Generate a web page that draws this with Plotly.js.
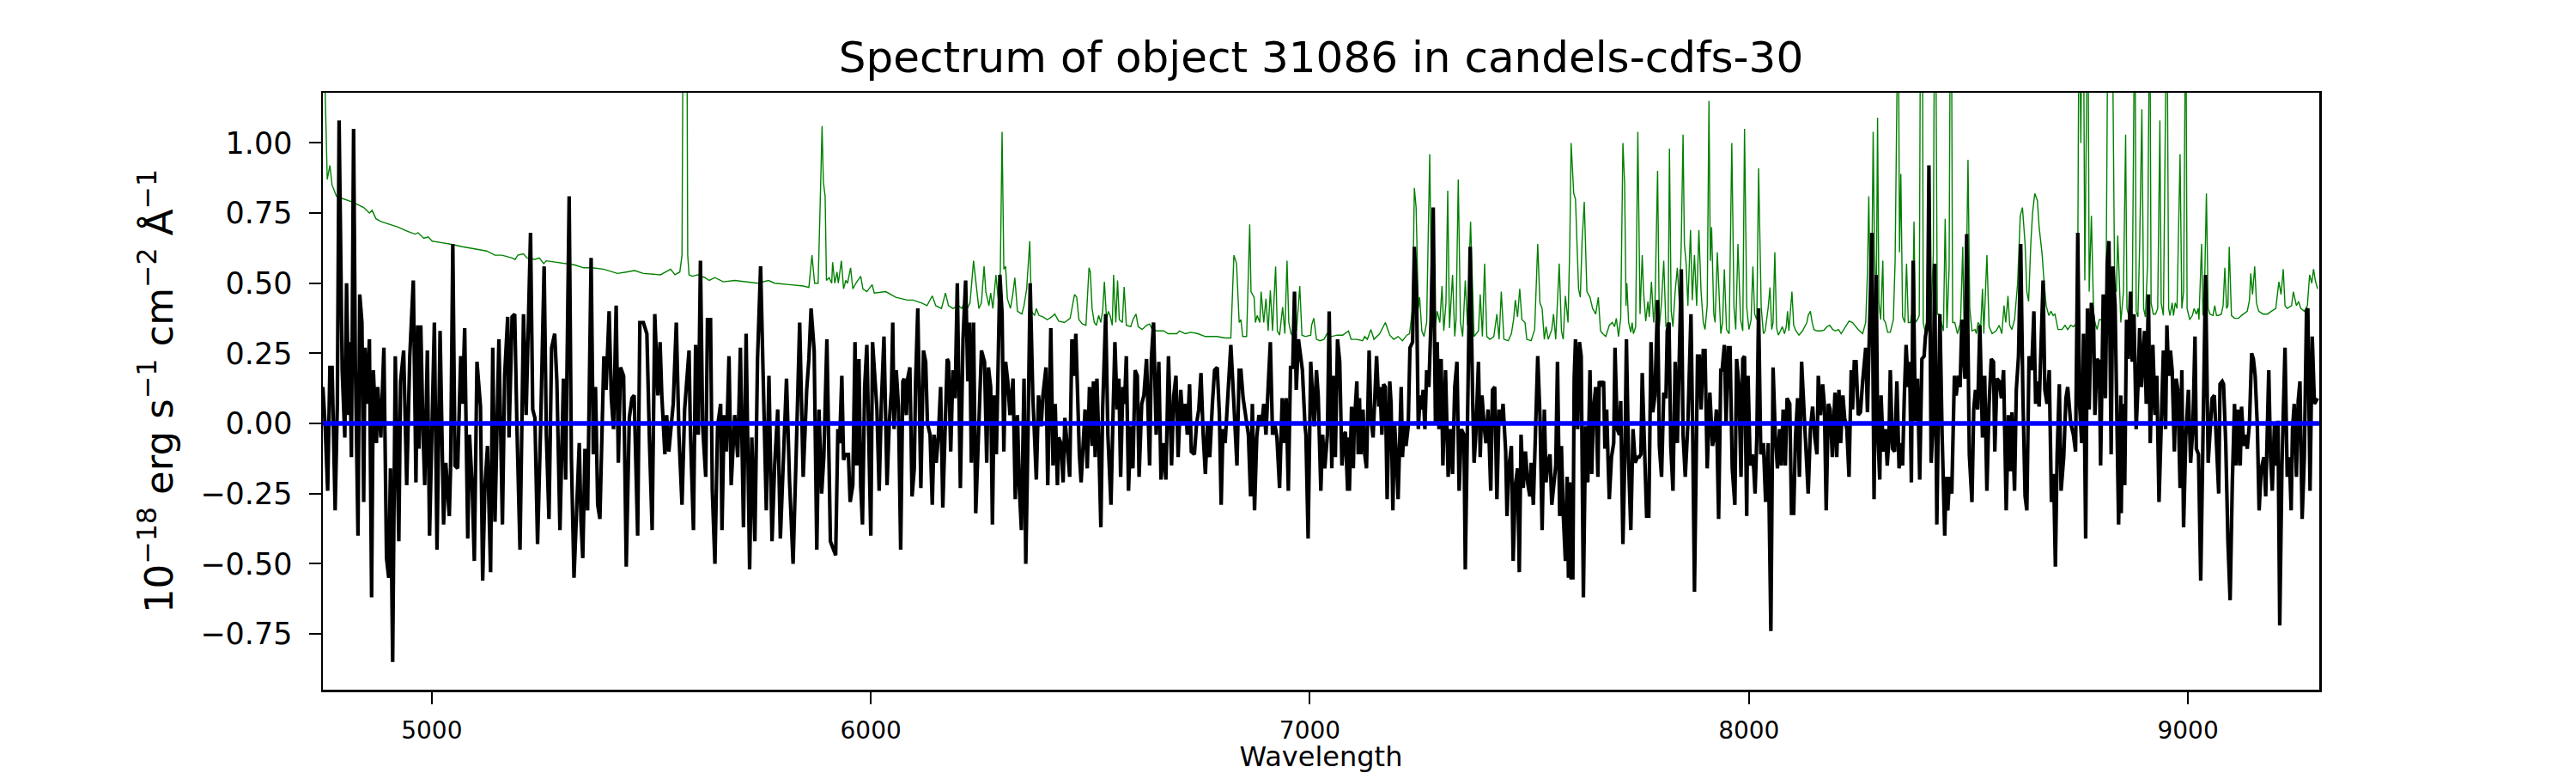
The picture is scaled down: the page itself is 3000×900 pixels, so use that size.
<!DOCTYPE html>
<html><head><meta charset="utf-8">
<script src="https://cdn.plot.ly/plotly-3.0.1.min.js"></script>
<style>html,body{margin:0;padding:0;background:#fff}</style>
</head><body><div id="chart" style="width:3000px;height:900px"></div>
<script>
// Observed flux (black), [wavelength, flux]
const fluxPairs = [
[4752,0.13],[4757,0.00],[4763,-0.24],[4768,0.20],[4773,0.20],[4780,-0.31],[4785,0.07],[4789,1.08],[4796,0.19],[4802,-0.05],[4806,0.50],[4811,0.03],[4813,0.29],[4817,-0.12],[4822,1.05],[4826,0.22],[4832,-0.40],[4836,0.46],[4841,0.36],[4845,-0.28],[4848,0.27],[4852,0.07],[4858,0.30],[4863,-0.62],[4867,0.19],[4874,-0.07],[4877,0.13],[4884,-0.05],[4891,0.27],[4897,-0.48],[4902,-0.55],[4906,-0.16],[4911,-0.85],[4917,0.24],[4925,-0.42],[4929,0.15],[4936,0.26],[4943,-0.22],[4950,0.24],[4958,0.51],[4964,-0.21],[4968,0.35],[4971,-0.09],[4975,0.35],[4980,-0.02],[4984,-0.22],[4990,0.26],[4995,-0.40],[5006,0.36],[5012,-0.45],[5019,0.33],[5027,-0.36],[5032,-0.14],[5040,-0.33],[5043,-0.15],[5048,0.64],[5053,-0.15],[5059,-0.16],[5066,0.24],[5070,0.07],[5075,0.34],[5082,-0.41],[5086,-0.04],[5092,-0.22],[5097,-0.49],[5103,0.22],[5111,0.06],[5116,-0.56],[5121,-0.23],[5127,-0.08],[5134,-0.53],[5139,0.27],[5144,-0.35],[5153,0.30],[5161,-0.36],[5166,0.17],[5173,0.38],[5176,-0.05],[5183,0.38],[5189,0.39],[5194,-0.01],[5201,-0.45],[5209,0.39],[5215,0.03],[5225,0.68],[5230,0.05],[5235,0.02],[5241,-0.43],[5248,-0.01],[5256,0.56],[5261,-0.04],[5267,-0.34],[5273,0.27],[5280,0.32],[5285,0.15],[5292,-0.38],[5300,0.16],[5305,-0.20],[5313,0.81],[5318,-0.12],[5324,-0.55],
[5331,-0.22],[5336,-0.07],[5340,-0.35],[5344,-0.48],[5349,-0.09],[5355,-0.31],[5363,0.59],[5368,-0.11],[5373,0.13],[5378,-0.29],[5383,-0.34],[5388,-0.04],[5392,0.24],[5397,0.12],[5404,0.40],[5409,0.09],[5414,-0.02],[5420,0.42],[5425,-0.14],[5430,0.20],[5437,0.17],[5443,-0.51],[5450,0.02],[5456,0.09],[5461,0.10],[5469,-0.40],[5474,0.36],[5482,0.36],[5490,0.32],[5496,-0.07],[5502,-0.38],[5508,0.39],[5515,0.10],[5520,0.29],[5524,0.10],[5531,-0.11],[5535,0.03],[5540,-0.10],[5550,0.07],[5557,0.36],[5563,-0.04],[5570,-0.29],[5576,0.05],[5586,0.26],[5589,-0.02],[5596,-0.38],[5601,0.28],[5607,-0.04],[5612,0.58],[5617,-0.01],[5624,-0.19],[5628,0.37],[5635,0.37],[5639,-0.24],[5645,-0.50],[5651,-0.01],[5658,0.07],[5661,-0.38],[5666,0.03],[5671,-0.10],[5677,0.24],[5682,-0.22],[5690,0.03],[5697,-0.12],[5703,0.27],[5710,-0.37],[5716,0.32],[5724,-0.52],[5729,-0.05],[5736,-0.42],[5742,0.23],[5749,0.56],[5755,0.12],[5762,-0.31],[5768,0.17],[5775,-0.42],[5781,-0.15],[5788,0.05],[5794,-0.41],[5801,-0.15],[5808,0.16],[5815,-0.21],[5823,-0.50],[5830,-0.11],[5838,0.36],[5846,-0.19],[5854,0.12],[5859,0.23],[5864,0.41],[5871,0.26],[5877,-0.45],[5882,0.05],[5888,-0.25],[5893,-0.12],[5900,0.30],[5908,-0.42],
[5920,-0.47],[5925,-0.02],[5929,-0.07],[5934,0.17],[5938,-0.13],[5942,-0.11],[5949,-0.11],[5953,-0.28],[5959,-0.22],[5964,0.29],[5968,-0.15],[5973,0.23],[5977,-0.22],[5981,-0.36],[5986,0.13],[5991,0.28],[5995,-0.07],[6000,-0.40],[6004,0.29],[6010,0.17],[6014,0.05],[6019,-0.24],[6024,0.07],[6030,0.31],[6034,0.03],[6037,-0.22],[6042,0.00],[6047,0.12],[6050,0.36],[6053,-0.02],[6058,0.19],[6063,0.06],[6068,-0.45],[6073,0.15],[6076,0.16],[6081,0.03],[6084,0.16],[6089,0.20],[6094,-0.26],[6099,-0.16],[6102,0.15],[6107,0.41],[6114,-0.23],[6120,0.26],[6125,0.22],[6129,0.00],[6135,-0.04],[6140,-0.29],[6144,-0.04],[6149,-0.14],[6154,-0.04],[6159,0.13],[6164,-0.30],[6169,0.00],[6174,0.23],[6177,0.22],[6182,-0.10],[6187,0.19],[6192,0.09],[6197,0.50],[6204,-0.23],[6210,0.30],[6216,0.51],[6221,0.15],[6225,0.36],[6229,-0.14],[6234,0.36],[6239,-0.32],[6246,-0.04],[6252,0.26],[6259,0.22],[6264,-0.14],[6268,0.20],[6273,0.13],[6277,-0.36],[6281,0.10],[6286,-0.11],[6290,0.22],[6294,0.53],[6299,0.39],[6303,-0.10],[6307,0.22],[6312,0.15],[6317,0.03],[6324,0.16],[6329,-0.27],[6334,0.03],[6338,-0.22],[6343,-0.38],[6349,0.16],[6353,-0.50],[6358,-0.04],[6363,0.50],[6369,0.10],[6377,-0.20],[6382,0.10],[6388,-0.01],[6392,0.10],[6399,0.20],[6403,-0.22],[6410,0.34],[6415,-0.15],[6420,0.07],[6425,-0.22],[6428,-0.05],[6433,-0.07],[6438,-0.21],[6442,0.02],[6448,-0.11],[6453,-0.19],[6458,0.30],[6462,0.17],[6467,0.32],[6471,0.07],[6475,-0.11],[6479,-0.21],[6484,-0.04],[6488,0.05],[6493,-0.16],[6498,0.13],
[6504,-0.08],[6507,0.15],[6511,-0.12],[6515,0.16],[6519,-0.05],[6524,-0.37],[6528,0.05],[6535,0.39],[6540,-0.04],[6547,-0.29],[6552,0.05],[6556,0.29],[6561,0.05],[6565,0.16],[6569,-0.19],[6574,0.13],[6578,0.07],[6582,0.24],[6587,-0.24],[6592,-0.01],[6597,-0.16],[6602,0.19],[6607,0.17],[6611,-0.19],[6617,0.07],[6622,0.10],[6628,0.23],[6635,-0.15],[6639,0.23],[6644,0.36],[6650,-0.04],[6656,0.22],[6661,-0.20],[6667,-0.07],[6672,-0.20],[6678,0.24],[6685,-0.15],[6690,0.10],[6695,0.17],[6700,-0.12],[6706,0.12],[6711,0.00],[6716,0.07],[6721,-0.04],[6726,0.14],[6730,-0.10],[6737,-0.11],[6742,0.00],[6747,0.05],[6752,0.18],[6757,-0.04],[6762,-0.18],[6767,0.00],[6772,-0.12],[6778,0.07],[6783,0.19],[6789,0.20],[6794,0.03],[6798,-0.29],[6802,-0.02],[6807,-0.07],[6813,0.10],[6817,0.23],[6820,0.28],[6826,0.10],[6829,-0.01],[6834,-0.15],[6839,0.19],[6843,0.19],[6848,0.09],[6853,0.03],[6860,-0.04],[6865,-0.26],[6869,0.07],[6874,-0.31],[6879,-0.05],[6884,0.03],[6890,-0.01],[6895,0.07],[6900,-0.04],[6905,0.13],[6910,0.29],[6915,-0.04],[6920,0.00],[6925,-0.05],[6931,-0.23],[6937,0.09],[6941,-0.07],[6946,0.09],[6951,-0.24],[6956,0.20],[6961,0.20],[6965,0.47],[6969,0.12],[6974,0.30],[6978,0.24],[6983,0.19],[6989,-0.01],[6991,-0.04],[6996,-0.41],[7002,0.22],[7004,0.16],[7010,-0.01],[7015,0.19],[7019,0.10],[7025,-0.24],[7029,-0.04],[7034,-0.16],[7040,-0.04],[7044,0.40],[7050,-0.16],[7054,0.17],[7058,-0.12],[7063,0.30],[7068,0.22],[7073,-0.15],[7078,-0.04],[7081,-0.03],[7086,-0.24],
[7087,-0.05],[7090,-0.24],[7095,0.06],[7099,-0.16],[7101,-0.01],[7107,0.15],[7110,-0.11],[7113,0.09],[7116,-0.11],[7121,0.05],[7125,-0.11],[7129,-0.16],[7135,0.26],[7139,0.02],[7144,-0.05],[7148,0.10],[7152,0.24],[7157,0.06],[7160,0.13],[7164,-0.04],[7168,0.14],[7172,0.13],[7176,-0.27],[7182,0.15],[7185,0.07],[7189,-0.31],[7193,0.00],[7197,-0.12],[7201,-0.27],[7208,0.13],[7211,-0.12],[7215,0.00],[7219,-0.08],[7224,-0.01],[7228,0.27],[7234,0.29],[7238,0.63],[7243,0.46],[7247,-0.02],[7251,0.10],[7255,0.05],[7258,0.12],[7262,-0.02],[7266,0.19],[7271,0.13],[7276,0.37],[7281,0.77],[7286,0.00],[7290,0.29],[7294,-0.02],[7299,0.23],[7303,-0.15],[7309,0.19],[7315,-0.19],[7320,-0.02],[7325,-0.18],[7330,0.13],[7335,0.22],[7340,-0.24],[7345,-0.02],[7351,-0.04],[7354,-0.52],[7359,0.05],[7365,0.63],[7371,0.07],[7374,-0.14],[7378,-0.04],[7384,0.22],[7388,-0.12],[7392,0.10],[7397,-0.01],[7401,-0.07],[7406,0.05],[7412,-0.24],[7416,0.12],[7421,0.13],[7426,-0.27],[7431,0.05],[7436,0.00],[7440,0.07],[7446,-0.10],[7449,-0.33],[7453,-0.16],[7459,-0.08],[7463,-0.49],[7468,-0.22],[7473,-0.16],[7477,-0.53],[7481,-0.04],[7486,-0.23],[7491,-0.10],[7496,-0.21],[7501,-0.26],[7504,-0.14],[7509,-0.29],[7514,-0.02],[7519,0.24],[7524,0.03],[7529,-0.38],[7534,0.05],[7538,-0.21],[7542,-0.14],[7547,-0.11],[7551,-0.29],[7556,-0.21],[7560,-0.15],[7564,0.22],[7569,-0.33],[7573,-0.08],[7577,-0.32],[7582,-0.49],[7586,-0.19],[7589,-0.55],[7592,-0.21],[7595,-0.55],[7599,-0.55],[7602,0.16],[7605,0.30],[7610,-0.02],[7614,0.29],[7618,0.24],[7623,-0.62],[7628,-0.01],[7633,-0.21],[7638,0.19],[7642,-0.18],[7646,0.05],[7651,0.13],[7656,-0.19],[7659,0.15],[7664,0.14],[7669,0.15],[7672,-0.09],
[7676,0.05],[7679,-0.12],[7682,-0.27],[7687,-0.12],[7692,-0.07],[7695,0.27],[7700,-0.02],[7705,-0.04],[7708,0.08],[7713,-0.43],[7718,-0.07],[7721,0.30],[7726,-0.14],[7731,-0.38],[7736,-0.02],[7741,-0.14],[7746,-0.12],[7750,-0.12],[7754,-0.11],[7757,0.18],[7762,-0.05],[7767,-0.33],[7772,-0.33],[7777,0.29],[7781,0.04],[7786,0.10],[7792,0.44],[7796,-0.08],[7801,-0.19],[7806,0.11],[7811,0.09],[7814,0.33],[7818,0.36],[7822,-0.08],[7827,-0.24],[7832,0.22],[7837,-0.07],[7842,0.36],[7846,0.55],[7850,-0.04],[7855,-0.19],[7861,0.00],[7868,0.39],[7872,-0.04],[7876,-0.60],[7883,0.24],[7887,0.24],[7891,0.05],[7896,0.26],[7900,0.26],[7905,-0.16],[7911,0.11],[7917,-0.08],[7922,-0.04],[7926,0.05],[7931,-0.34],[7936,0.19],[7939,0.19],[7944,0.28],[7948,0.00],[7953,0.27],[7957,0.27],[7962,-0.16],[7968,-0.29],[7972,0.23],[7977,0.14],[7982,-0.19],[7986,0.23],[7990,0.24],[7995,-0.33],[7998,0.17],[8003,-0.15],[8008,-0.11],[8011,-0.16],[8014,-0.25],[8018,-0.05],[8022,0.41],[8027,-0.11],[8033,-0.07],[8038,-0.28],[8044,-0.07],[8050,-0.74],[8055,0.20],[8060,-0.04],[8065,-0.16],[8070,-0.02],[8074,-0.15],[8078,0.05],[8083,-0.15],[8087,0.09],[8093,0.07],[8097,-0.32],[8102,-0.32],[8106,-0.05],[8111,0.09],[8115,-0.19],[8120,0.22],[8125,0.06],[8130,-0.08],[8135,-0.25],[8140,-0.02],[8145,0.06],[8150,-0.05],[8155,-0.11],[8158,0.17],[8163,0.03],[8168,0.14],[8172,0.06],[8176,-0.31],[8181,0.07],[8185,0.05],[8190,-0.12],[8196,0.11],[8200,-0.12],[8205,0.12],[8209,-0.07],[8214,0.10],[8218,0.02],[8223,-0.02],[8228,-0.19],[8233,0.19],[8236,0.05],[8240,0.22],[8244,0.22],[8249,0.03],[8254,0.04],[8259,0.15],
[8266,0.27],[8270,0.04],[8275,0.37],[8280,0.68],[8285,-0.27],[8290,0.53],[8293,-0.01],[8298,-0.20],[8301,0.10],[8306,-0.10],[8311,-0.02],[8315,-0.15],[8319,-0.05],[8322,0.19],[8327,-0.09],[8332,-0.10],[8337,0.15],[8342,-0.16],[8345,-0.07],[8350,-0.15],[8354,0.10],[8358,0.28],[8363,0.13],[8366,0.22],[8370,-0.21],[8374,0.58],[8379,0.01],[8384,0.16],[8389,-0.20],[8394,0.23],[8399,0.24],[8402,0.31],[8407,0.36],[8410,0.92],[8415,-0.14],[8419,-0.01],[8423,0.57],[8428,-0.36],[8431,-0.02],[8435,0.39],[8440,-0.04],[8446,-0.40],[8449,-0.19],[8453,-0.31],[8457,-0.19],[8462,-0.25],[8468,0.17],[8472,0.10],[8477,0.17],[8481,0.13],[8485,0.37],[8492,0.16],[8496,0.675],[8502,-0.11],[8508,-0.28],[8512,0.05],[8516,0.12],[8521,0.05],[8526,0.35],[8532,-0.05],[8537,0.17],[8542,-0.24],[8547,0.07],[8552,0.23],[8557,0.22],[8560,-0.10],[8565,0.16],[8570,0.15],[8575,0.09],[8580,0.19],[8586,-0.31],[8591,0.03],[8596,-0.17],[8599,0.04],[8605,-0.24],[8609,0.12],[8614,0.24],[8619,0.64],[8624,0.10],[8629,-0.26],[8633,-0.31],[8638,0.24],[8644,0.19],[8649,0.40],[8653,0.07],[8657,0.15],[8661,0.06],[8664,0.23],[8670,0.51],[8674,0.12],[8679,0.07],[8684,0.19],[8689,-0.28],[8694,-0.18],[8698,-0.51],[8702,-0.11],[8707,0.14],[8711,-0.24],[8717,-0.12],[8722,0.09],[8726,0.13],[8733,0.00],[8739,-0.04],[8744,-0.10],[8749,0.68],[8753,0.07],[8758,-0.07],[8762,0.32],[8767,-0.41],[8771,0.41],[8775,0.05],[8780,0.43],[8785,0.36],[8788,0.03],[8793,0.23],[8798,0.22],[8801,-0.15],[8807,0.46],[8812,0.09],[8816,0.57],[8820,0.65],[8825,-0.11],[8829,0.56],[8834,0.42],[8838,-0.10],[8842,-0.36],[8847,0.10],
[8848,-0.32],[8851,0.07],[8856,-0.22],[8860,0.37],[8864,0.23],[8869,0.47],[8873,0.22],[8877,0.39],[8882,-0.02],[8886,0.13],[8890,0.34],[8894,0.13],[8897,0.22],[8901,0.33],[8905,0.07],[8910,0.46],[8914,-0.07],[8920,0.28],[8925,0.03],[8929,0.17],[8934,-0.28],[8939,-0.01],[8944,0.26],[8949,-0.02],[8952,0.35],[8956,0.17],[8960,0.26],[8964,0.19],[8969,-0.10],[8973,0.16],[8977,0.12],[8982,-0.23],[8986,0.19],[8990,-0.37],[8995,-0.05],[9001,0.12],[9006,-0.14],[9011,-0.02],[9016,0.31],[9019,-0.09],[9024,-0.11],[9029,-0.56],[9034,-0.07],[9040,0.53],[9046,-0.14],[9050,-0.02],[9055,0.09],[9060,0.10],[9064,-0.07],[9070,-0.25],[9073,0.14],[9078,0.15],[9081,0.14],[9086,-0.07],[9091,-0.42],[9096,-0.63],[9101,-0.21],[9106,0.07],[9110,-0.15],[9114,0.05],[9119,-0.15],[9122,0.06],[9127,-0.08],[9132,-0.04],[9135,-0.09],[9140,0.00],[9145,0.25],[9149,0.23],[9153,0.17],[9158,-0.01],[9162,-0.31],[9167,-0.16],[9173,-0.12],[9177,-0.26],[9184,0.19],[9188,-0.12],[9192,-0.24],[9197,0.00],[9201,-0.15],[9205,0.01],[9209,-0.72],[9214,-0.15],[9221,0.27],[9226,-0.19],[9231,-0.12],[9235,-0.31],[9238,-0.02],[9242,0.07],[9247,-0.19],[9251,0.08],[9255,0.15],[9260,-0.34],[9265,-0.12],[9270,0.40],[9273,0.41],[9278,-0.24],[9283,0.31],[9288,0.07],[9295,0.09]
];

// Uncertainty / sky spectrum (green), [wavelength, value]
const errorPairs = [
[4752,1.40],[4757,1.20],[4762,0.87],[4768,0.92],[4773,0.85],[4783,0.81],[4800,0.80],[4819,0.79],[4845,0.77],[4858,0.75],[4864,0.76],[4873,0.73],[4884,0.72],[4904,0.71],[4923,0.70],[4945,0.685],[4962,0.675],[4969,0.68],[4982,0.66],[4992,0.665],[5001,0.65],[5020,0.645],[5040,0.64],[5070,0.63],[5105,0.62],[5125,0.615],[5144,0.60],[5160,0.60],[5183,0.59],[5190,0.585],[5196,0.60],[5209,0.605],[5217,0.59],[5235,0.585],[5245,0.59],[5255,0.57],[5261,0.58],[5280,0.575],[5300,0.57],[5326,0.565],
[5346,0.555],[5365,0.555],[5391,0.55],[5423,0.535],[5443,0.54],[5462,0.545],[5482,0.535],[5521,0.53],[5544,0.55],[5554,0.53],[5565,0.54],[5570,0.60],[5574,2.0],[5580,2.0],[5583,0.60],[5586,0.53],[5593,0.525],[5606,0.53],[5622,0.52],[5632,0.51],[5645,0.52],[5664,0.505],[5690,0.51],[5716,0.505],[5742,0.50],[5767,0.51],[5781,0.50],[5814,0.495],[5846,0.49],[5859,0.485],[5866,0.60],[5872,0.50],[5880,0.50],[5885,0.80],[5889,1.06],[5892,0.86],[5896,0.81],[5899,0.51],[5905,0.52],[5911,0.50],
[5913,0.575],[5918,0.50],[5923,0.54],[5926,0.50],[5933,0.58],[5938,0.48],[5943,0.51],[5947,0.50],[5954,0.555],[5959,0.48],[5966,0.50],[5977,0.525],[5982,0.48],[5991,0.47],[6003,0.495],[6008,0.465],[6034,0.47],[6057,0.45],[6083,0.44],[6096,0.44],[6115,0.43],[6128,0.42],[6140,0.455],[6148,0.42],[6161,0.41],[6170,0.465],[6177,0.42],[6187,0.41],[6200,0.42],[6207,0.41],[6213,0.43],[6220,0.41],[6226,0.43],[6234,0.58],[6239,0.50],[6246,0.41],[6252,0.43],[6258,0.56],[6262,0.47],[6269,0.42],[6273,0.465],[6278,0.41],[6285,0.53],[6290,0.445],[6295,0.54],[6299,1.04],[6303,0.55],[6307,0.56],[6311,0.445],[6318,0.41],[6323,0.455],[6328,0.52],[6334,0.40],[6344,0.39],[6349,0.42],[6355,0.48],[6362,0.65],[6366,0.40],[6373,0.385],[6377,0.41],[6383,0.385],[6392,0.38],[6402,0.37],[6412,0.38],[6419,0.39],[6428,0.365],[6441,0.36],[6454,0.375],[6464,0.46],[6469,0.45],[6474,0.37],[6482,0.355],[6490,0.35],[6497,0.555],[6500,0.54],
[6504,0.41],[6509,0.36],[6514,0.35],[6519,0.385],[6524,0.36],[6528,0.40],[6532,0.505],[6537,0.37],[6541,0.40],[6545,0.385],[6550,0.35],[6553,0.53],[6558,0.36],[6562,0.51],[6566,0.37],[6573,0.36],[6577,0.487],[6582,0.35],[6592,0.345],[6597,0.37],[6604,0.39],[6609,0.345],[6618,0.335],[6628,0.35],[6635,0.355],[6641,0.335],[6651,0.33],[6667,0.33],[6677,0.32],[6697,0.32],[6703,0.33],[6716,0.32],[6729,0.325],[6745,0.32],[6762,0.31],[6788,0.31],[6807,0.305],[6820,0.305],[6827,0.60],[6833,0.57],[6839,0.36],[6843,0.37],[6847,0.31],[6856,0.31],[6863,0.71],[6866,0.47],[6873,0.45],[6876,0.36],[6880,0.385],[6886,0.36],[6889,0.47],[6895,0.36],[6900,0.445],[6905,0.33],[6910,0.475],[6915,0.33],[6922,0.56],[6926,0.33],[6931,0.315],[6938,0.415],[6943,0.32],[6948,0.58],[6952,0.36],[6957,0.32],[6965,0.31],[6970,0.335],[6977,0.49],[6982,0.315],[6990,0.31],[7002,0.315],[7004,0.35],[7009,0.375],[7015,0.30],[7023,0.295],[7032,0.30],[7039,0.32],[7049,0.31],[7062,0.315],[7075,0.315],[7088,0.33],
[7094,0.30],[7107,0.30],[7120,0.295],[7125,0.31],[7131,0.30],[7139,0.335],[7146,0.30],[7159,0.32],[7172,0.36],[7182,0.315],[7191,0.30],[7201,0.31],[7211,0.295],[7221,0.315],[7227,0.32],[7234,0.41],[7238,0.84],[7242,0.77],[7247,0.41],[7250,0.45],[7255,0.33],[7260,0.31],[7266,0.36],[7273,0.96],[7277,0.47],[7283,0.32],[7290,0.40],[7296,0.36],[7301,0.49],[7305,0.33],[7310,0.43],[7314,0.83],[7318,0.34],[7325,0.53],[7330,0.31],[7333,0.37],[7338,0.87],[7343,0.36],[7348,0.31],[7354,0.51],[7359,0.35],[7366,0.72],[7371,0.46],[7374,0.31],[7384,0.33],[7388,0.46],[7393,0.31],[7398,0.57],[7403,0.31],[7410,0.30],[7419,0.31],[7426,0.39],[7431,0.30],[7436,0.47],[7442,0.30],[7452,0.295],[7459,0.32],[7464,0.37],[7468,0.44],[7473,0.38],[7478,0.48],[7483,0.37],[7490,0.36],[7494,0.30],[7504,0.295],[7512,0.335],[7519,0.64],[7524,0.43],[7529,0.41],[7534,0.30],[7538,0.345],[7543,0.30],[7551,0.335],[7555,0.39],[7560,0.30],[7568,0.57],[7573,0.33],[7577,0.30],[7582,0.455],[7588,0.36],[7592,0.64],[7595,1.00],[7601,0.82],[7605,0.80],[7612,0.48],[7616,0.45],[7620,0.65],[7625,0.79],[7631,0.47],[7638,0.45],[7644,0.41],[7651,0.39],[7657,0.45],[7662,0.33],[7667,0.32],[7674,0.31],
[7682,0.35],[7689,0.36],[7694,0.345],[7698,0.375],[7703,0.31],[7708,0.375],[7713,1.00],[7717,0.85],[7720,0.42],[7722,0.50],[7726,0.36],[7731,0.325],[7734,0.36],[7737,0.32],[7742,0.345],[7747,1.04],[7752,0.39],[7757,0.60],[7760,0.47],[7765,0.365],[7770,0.435],[7773,0.38],[7778,0.505],[7783,0.36],[7786,0.42],[7792,0.90],[7796,0.345],[7801,0.435],[7806,0.58],[7811,0.345],[7816,0.36],[7819,0.98],[7823,0.40],[7827,0.345],[7832,0.47],[7837,0.555],[7842,0.415],[7846,0.65],[7850,1.03],[7853,0.64],[7857,0.57],[7861,0.42],[7867,0.69],[7871,0.44],[7876,0.60],[7881,0.42],[7886,0.69],[7891,0.47],[7896,0.36],[7900,0.335],[7905,0.42],[7909,1.15],[7912,0.58],[7915,0.70],[7920,0.39],[7923,0.36],[7928,0.61],[7933,0.415],[7936,0.32],[7940,0.36],[7944,0.55],[7949,0.335],[7955,0.32],[7961,1.00],[7966,0.415],[7970,0.335],[7975,0.64],[7981,0.37],[7986,0.33],[7990,1.05],[7995,0.415],[8000,0.335],[8005,0.37],[8009,0.56],[8013,0.39],[8018,0.37],[8022,0.91],[8028,0.415],[8033,0.32],[8037,0.33],[8044,0.415],[8048,0.485],[8052,0.335],[8055,0.36],[8059,0.61],[8063,0.34],[8067,0.315],[8072,0.33],[8076,0.345],[8081,0.32],[8085,0.345],[8088,0.40],[8091,0.33],[8098,0.47],[8102,0.35],[8107,0.33],[8114,0.315],[8122,0.33],[8132,0.36],[8135,0.385],[8140,0.40],[8144,0.36],[8148,0.335],[8155,0.33],[8165,0.33],[8171,0.333],[8178,0.345],[8184,0.35],[8191,0.335],[8197,0.33],[8204,0.335],[8210,0.32],[8220,0.345],[8228,0.365],[8236,0.36],[8243,0.345],[8249,0.335],[8259,0.32],
[8266,0.36],[8270,0.54],[8273,0.81],[8277,0.36],[8280,0.555],[8283,1.04],[8286,0.61],[8290,0.41],[8293,1.09],[8296,0.43],[8300,0.37],[8305,0.58],[8307,0.37],[8311,0.36],[8316,0.325],[8322,0.325],[8329,0.37],[8333,0.58],[8337,1.6],[8340,1.6],[8343,0.61],[8346,0.89],[8350,0.38],[8355,0.36],[8359,0.57],[8363,0.36],[8368,0.36],[8373,0.41],[8376,0.72],[8379,0.36],[8384,0.37],[8388,0.385],[8391,1.6],[8395,1.6],[8397,0.36],[8401,0.33],[8405,0.36],[8410,0.57],[8414,0.37],[8420,0.60],[8423,1.6],[8425,1.6],[8429,0.39],[8433,0.39],[8443,0.33],[8447,0.73],[8451,0.34],[8456,0.555],[8459,1.6],[8461,1.6],[8464,0.36],[8469,0.36],[8475,0.32],[8482,0.36],[8487,0.63],[8490,0.33],[8494,0.40],[8496,0.70],[8499,0.94],[8503,0.41],[8508,0.33],[8515,0.335],[8518,0.32],[8522,0.36],[8528,0.345],[8532,0.48],[8535,0.32],[8542,0.60],[8547,0.345],[8554,0.32],[8563,0.33],[8570,0.35],[8576,0.32],[8581,0.42],[8585,0.36],[8590,0.455],[8594,0.35],[8599,0.335],[8605,0.37],[8612,0.50],[8618,0.74],[8623,0.77],[8629,0.64],[8633,0.47],[8637,0.435],[8642,0.64],[8646,0.75],[8651,0.82],[8657,0.795],[8661,0.70],[8668,0.60],[8671,0.53],[8677,0.42],[8683,0.385],[8688,0.40],[8693,0.385],[8697,0.39],[8704,0.335],[8713,0.335],[8720,0.35],[8726,0.335],[8733,0.35],[8739,0.345],[8746,0.355],[8749,0.58],[8752,1.6],[8756,1.0],[8759,1.6],[8762,1.5],[8765,0.51],[8769,1.6],[8772,1.6],[8775,0.47],[8780,0.74],[8785,0.40],[8788,0.36],[8793,0.335],[8798,0.37],[8803,0.37],[8808,0.33],[8813,0.36],[8816,0.88],[8818,1.6],[8824,1.6],[8827,1.6],[8833,0.485],[8837,0.47],[8840,0.67],[8844,0.515],[8847,0.36],
[8853,0.47],[8858,1.03],[8861,0.41],[8866,0.38],[8873,0.41],[8875,1.6],[8879,1.6],[8882,0.40],[8886,0.38],[8890,0.64],[8895,1.12],[8899,0.41],[8903,0.38],[8908,0.57],[8911,1.6],[8913,1.6],[8916,0.43],[8921,0.39],[8926,0.39],[8931,0.41],[8936,1.08],[8939,0.43],[8944,0.385],[8949,1.6],[8952,1.6],[8956,0.41],[8959,0.385],[8964,0.43],[8967,0.385],[8971,0.43],[8975,0.41],[8982,0.96],[8986,0.41],[8990,0.47],[8993,1.6],[8995,1.6],[8998,0.41],[9004,0.37],[9010,0.385],[9014,0.41],[9019,0.39],[9023,0.41],[9025,0.37],[9031,0.64],[9034,0.385],[9038,0.50],[9042,0.82],[9046,0.41],[9050,0.39],[9057,0.385],[9061,0.42],[9065,0.385],[9070,0.385],[9076,0.39],[9080,0.42],[9084,0.555],[9088,0.41],[9091,0.42],[9094,0.63],[9099,0.385],[9106,0.375],[9115,0.375],[9122,0.385],[9127,0.39],[9135,0.40],[9140,0.44],[9143,0.535],[9147,0.46],[9152,0.56],[9156,0.43],[9161,0.40],[9171,0.39],[9181,0.39],[9190,0.40],[9200,0.41],[9207,0.505],[9212,0.46],[9217,0.55],[9221,0.42],[9226,0.41],[9236,0.42],[9240,0.47],[9247,0.42],[9252,0.435],[9257,0.41],[9265,0.40],[9272,0.42],[9277,0.53],[9282,0.50],[9286,0.55],[9290,0.51],[9295,0.48]
];

// Model (blue) at zero
const modelWave = [4752, 9299];
const modelFlux = [0, 0];

const xTickVals = [5000, 6000, 7000, 8000, 9000];
const yTickVals = [-0.75, -0.5, -0.25, 0, 0.25, 0.5, 0.75, 1.0];
const xRange = [4752, 9299];
const yRange = [-0.949, 1.179];

const titleText = 'Spectrum of object 31086 in candels-cdfs-30';
const xLabel = 'Wavelength';
const yLabel = '10<sup>\u221218</sup> erg s<sup>\u22121</sup> cm<sup>\u22122</sup> \u00c5<sup>\u22121</sup>';

const FONT = 'DejaVu Sans, Liberation Sans, sans-serif';

const traces = [
  {x: errorPairs.map(p => p[0]), y: errorPairs.map(p => p[1]), type: 'scatter', mode: 'lines',
   line: {color: '#008000', width: 1.4}, hoverinfo: 'skip'},
  {x: fluxPairs.map(p => p[0]), y: fluxPairs.map(p => p[1]), type: 'scatter', mode: 'lines',
   line: {color: '#000000', width: 4.2}, hoverinfo: 'skip'},
  {x: modelWave, y: modelFlux, type: 'scatter', mode: 'lines',
   line: {color: '#0000ff', width: 5.5}, hoverinfo: 'skip'}
];

const layout = {
  width: 3000, height: 900,
  paper_bgcolor: '#ffffff', plot_bgcolor: '#ffffff',
  showlegend: false,
  font: {family: FONT, color: '#000000'},
  margin: {l: 376, r: 299, t: 108, b: 97, pad: 0},
  title: {text: titleText, font: {family: FONT, size: 50, color: '#000'},
          x: 0.5, xref: 'paper', xanchor: 'center', y: 0.926, yref: 'container', yanchor: 'middle'},
  xaxis: {
    range: xRange, tickvals: xTickVals, tickformat: 'd',
    ticks: 'outside', ticklen: 14, tickwidth: 2, tickcolor: '#000',
    showline: true, linewidth: 2.5, linecolor: '#000', mirror: true,
    showgrid: false, zeroline: false,
    tickfont: {family: FONT, size: 28, color: '#000'},
    ticklabelstandoff: 7,
    title: {text: xLabel, font: {family: FONT, size: 32, color: '#000'}, standoff: 2},
    automargin: false
  },
  yaxis: {
    range: yRange, tickvals: yTickVals, tickformat: '.2f',
    ticks: 'outside', ticklen: 14, tickwidth: 2, tickcolor: '#000',
    showline: true, linewidth: 2.5, linecolor: '#000', mirror: true,
    showgrid: false, zeroline: false,
    tickfont: {family: FONT, size: 35, color: '#000'},
    ticklabelstandoff: 12,
    title: {text: yLabel, font: {family: FONT, size: 45, color: '#000'}, standoff: 18},
    automargin: false
  }
};

Plotly.newPlot('chart', traces, layout, {staticPlot: true, displayModeBar: false});
</script>
</body></html>
